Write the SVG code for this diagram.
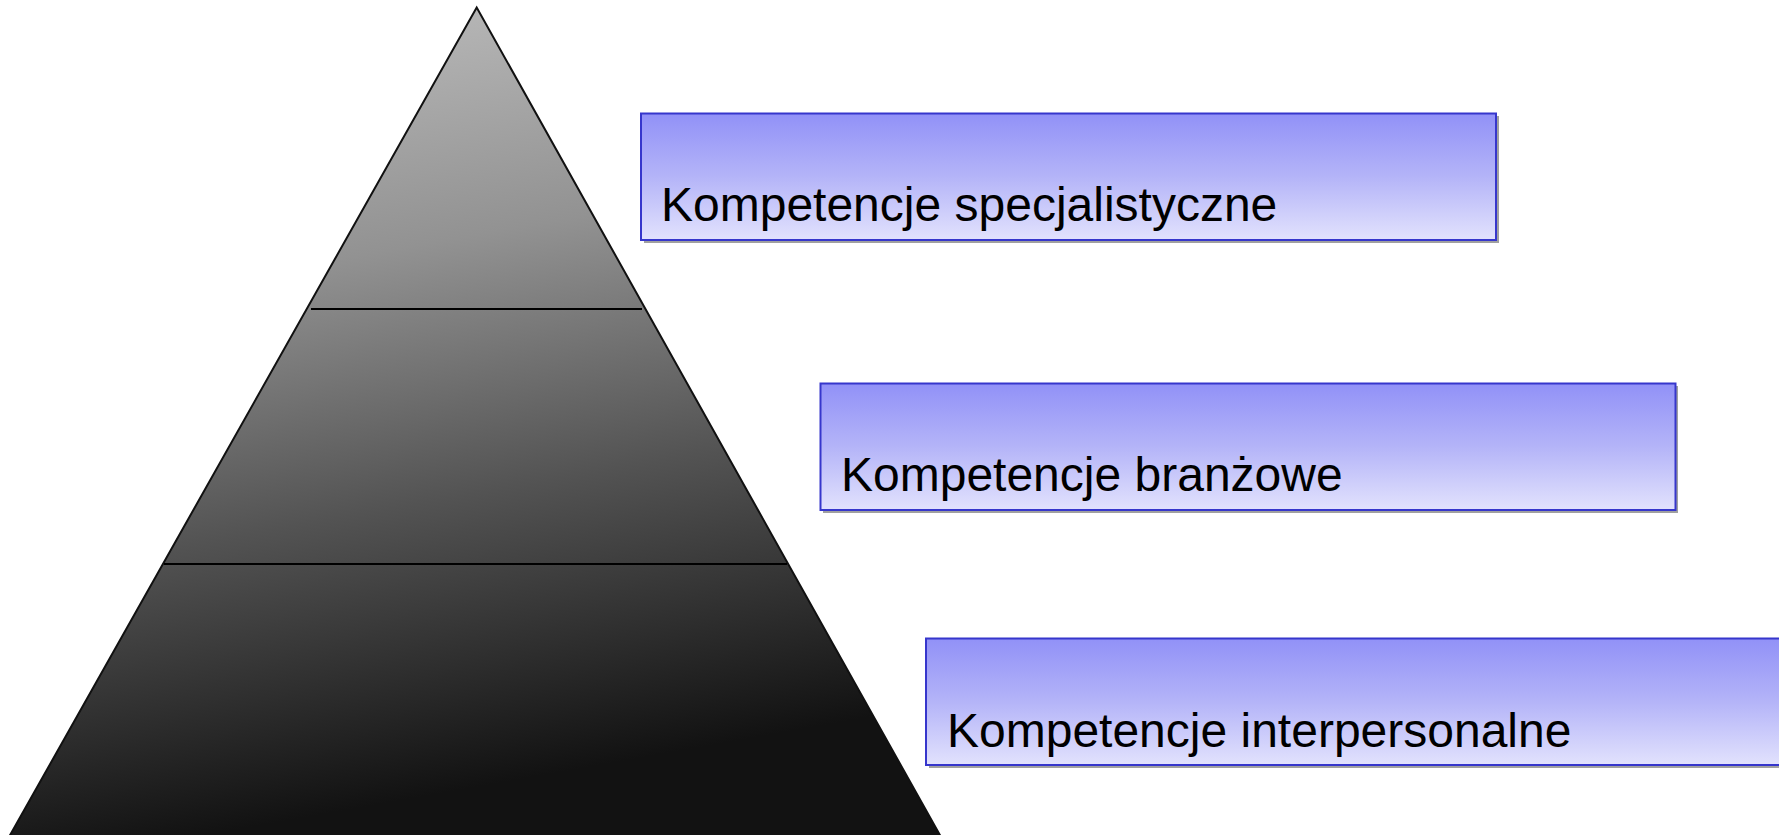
<svg xmlns="http://www.w3.org/2000/svg" width="1779" height="835" viewBox="0 0 1779 835">
<defs>
<linearGradient id="pyr" x1="0" y1="0" x2="0.2" y2="1">
<stop offset="0" stop-color="#c2c2c2"/>
<stop offset="0.36" stop-color="#929292"/>
<stop offset="0.66" stop-color="#535353"/>
<stop offset="1" stop-color="#121212"/>
</linearGradient>
<linearGradient id="box" x1="0" y1="0" x2="0" y2="1">
<stop offset="0" stop-color="#9191f7"/>
<stop offset="0.5" stop-color="#b4b4f8"/>
<stop offset="1" stop-color="#e2e2fd"/>
</linearGradient>
<style>
.bx{fill:url(#box);stroke:#3636cc;stroke-width:2}
.sh{fill:#a0a0a0}
.lb{font-family:"Liberation Sans",Arial,sans-serif;font-size:48px;fill:#000}
.sep{stroke:#000;stroke-width:2}
</style>
</defs>
<g id="pyramid">
<polygon points="476.7,7.5 9,837 941,837" fill="url(#pyr)" stroke="#111" stroke-width="2"/>
<line class="sep" x1="311" y1="309" x2="642" y2="309"/>
<line class="sep" x1="164" y1="564" x2="787" y2="564"/>
</g>
<g id="box1">
<rect class="sh" x="644" y="116" width="855" height="127"/>
<rect class="bx" x="641" y="113.5" width="855" height="126.5"/>
<text class="lb" x="661" y="221">Kompetencje specjalistyczne</text>
</g>
<g id="box2">
<rect class="sh" x="823" y="386" width="855" height="127"/>
<rect class="bx" x="820.5" y="383.5" width="855" height="126.5"/>
<text class="lb" x="841" y="491">Kompetencje branżowe</text>
</g>
<g id="box3">
<rect class="sh" x="929" y="641" width="900" height="127"/>
<rect class="bx" x="926" y="638.5" width="900" height="126.5"/>
<text class="lb" x="947" y="747">Kompetencje interpersonalne</text>
</g>
<g id="connectors"/>
</svg>
